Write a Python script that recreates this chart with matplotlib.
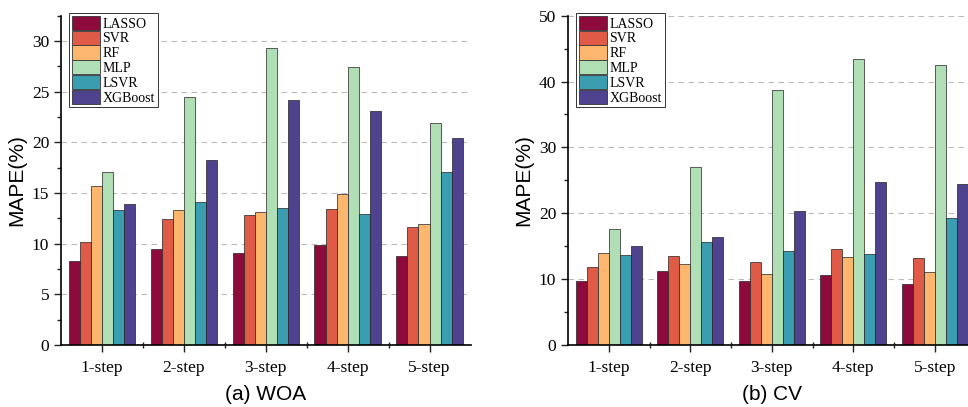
import numpy as np
import matplotlib
matplotlib.use("Agg")
import matplotlib.pyplot as plt
from matplotlib.ticker import MultipleLocator, FixedLocator

steps = ["1-step", "2-step", "3-step", "4-step", "5-step"]
models = ["LASSO", "SVR", "RF", "MLP", "LSVR", "XGBoost"]
colors = ["#8C0A3C", "#E05A48", "#FDB66E", "#B0DEB5", "#3A9DB0", "#4F428F"]

# MAPE(%) per model, one value per step
woa_lasso = [8.3, 9.45, 9.07, 9.9, 8.8]
woa_svr = [10.15, 12.45, 12.8, 13.4, 11.6]
woa_rf = [15.7, 13.3, 13.15, 14.9, 11.9]
woa_mlp = [17.05, 24.5, 29.35, 27.45, 21.9]
woa_lsvr = [13.35, 14.1, 13.5, 12.9, 17.1]
woa_xgb = [13.9, 18.25, 24.15, 23.1, 20.4]

cv_lasso = [9.7, 11.2, 9.7, 10.65, 9.3]
cv_svr = [11.8, 13.55, 12.55, 14.6, 13.15]
cv_rf = [13.95, 12.25, 10.8, 13.3, 11.15]
cv_mlp = [17.65, 27.1, 38.7, 43.35, 42.55]
cv_lsvr = [13.65, 15.6, 14.2, 13.75, 19.35]
cv_xgb = [15.05, 16.45, 20.35, 24.75, 24.5]

woa = [woa_lasso, woa_svr, woa_rf, woa_mlp, woa_lsvr, woa_xgb]
cv = [cv_lasso, cv_svr, cv_rf, cv_mlp, cv_lsvr, cv_xgb]

serif = ["Liberation Serif", "DejaVu Serif"]
sans = ["Liberation Sans", "DejaVu Sans"]

W, H = 968, 407
fig = plt.figure(figsize=(W / 100, H / 100), dpi=100)


def panel(rect, data, ymax, ystep, title):
    ax = fig.add_axes([rect[0] / W, 1 - rect[3] / H, (rect[2] - rect[0]) / W, (rect[3] - rect[1]) / H])
    x = np.arange(1, len(steps) + 1)
    bw = 0.135
    for i, (vals, c, name) in enumerate(zip(data, colors, models)):
        ax.bar(x + (i - 2.5) * bw, vals, bw, color=c, edgecolor="#222222",
               linewidth=0.5, label=name, zorder=2)
    ax.set_xlim(0.5, 5.5)
    ax.set_ylim(0, ymax)
    ax.yaxis.set_major_locator(MultipleLocator(ystep))
    ax.yaxis.set_minor_locator(MultipleLocator(ystep / 2))
    ax.set_xticks(x)
    ax.set_xticklabels(steps, fontfamily=serif, fontsize=12.5)
    ax.xaxis.set_minor_locator(FixedLocator(x[:-1] + 0.5))
    for lab in ax.get_yticklabels():
        lab.set_fontfamily(serif)
        lab.set_fontsize(12.5)
    ax.tick_params(which="major", direction="out", length=5, width=1, color="#222222")
    ax.tick_params(which="minor", direction="out", length=3, width=1, color="#222222")
    ax.tick_params(axis="x", which="minor", direction="inout", length=4)
    ax.tick_params(axis="x", which="major", pad=6)
    ax.spines["top"].set_visible(False)
    ax.spines["right"].set_visible(False)
    ax.spines["left"].set_linewidth(1.2)
    ax.spines["bottom"].set_linewidth(1.2)
    ax.grid(axis="y", which="major", linestyle=(0, (5, 4)), color="#BBBBBB", linewidth=0.8, zorder=0)
    ax.set_axisbelow(True)
    ax.set_ylabel("MAPE(%)", fontfamily=sans, fontsize=15, labelpad=4)
    ax.set_xlabel(title, fontfamily=sans, fontsize=15, labelpad=6)
    leg = ax.legend(loc="upper left", bbox_to_anchor=(0.02, 1.008), prop={"family": serif, "size": 10},
                    frameon=True, fancybox=False, edgecolor="#333333", framealpha=1,
                    handlelength=2.0, handleheight=1.2, labelspacing=0.0,
                    handletextpad=0.2, borderpad=0.2, borderaxespad=0)
    leg.get_frame().set_linewidth(0.7)
    for p in leg.get_patches():
        p.set_edgecolor("#333333")
        p.set_linewidth(0.6)
    return ax


panel((61, 15.7, 470.5, 345), woa, 32.5, 5, "(a) WOA")
panel((568, 15.7, 975.5, 345), cv, 50, 10, "(b) CV")

fig.savefig("out.png", dpi=100)
